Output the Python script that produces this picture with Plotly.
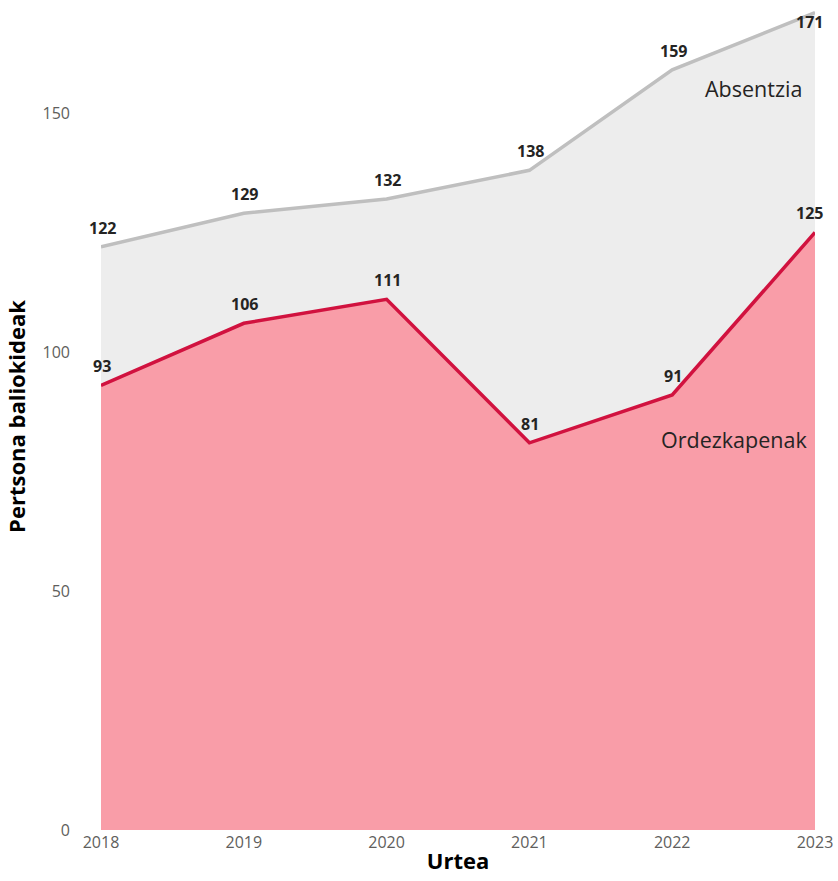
import plotly.graph_objects as go

years = [2018, 2019, 2020, 2021, 2022, 2023]
absentzia = [122, 129, 132, 138, 159, 171]
ordezkapenak = [93, 106, 111, 81, 91, 125]
y_ticks = [0, 50, 100, 150]
y_max = 173

label_font = dict(family="Open Sans, Noto Sans, sans-serif", size=16, color="#252423")

fig = go.Figure()
fig.add_trace(go.Scatter(
    x=years, y=absentzia, mode="lines", name="Absentzia",
    line=dict(color="#bfbfbf", width=3.5),
    fill="tozeroy", fillcolor="#ededed",
))
fig.add_trace(go.Scatter(
    x=years, y=ordezkapenak, mode="lines", name="Ordezkapenak",
    line=dict(color="#d1123f", width=3.5),
    fill="tozeroy", fillcolor="#f99da8",
))

last = years[-1]
for series in (absentzia, ordezkapenak):
    for yr, v in zip(years, series):
        near_top = v > y_max - 5
        fig.add_annotation(
            x=yr, y=v, xref="x", yref="y", text=f"<b>{v}</b>",
            showarrow=False,
            yshift=-9 if near_top else 19,
            xshift=-6 if yr == last else 1,
            font=label_font,
        )

fig.add_annotation(x=2022.57, y=155.2, xref="x", yref="y", text="Absentzia",
                   showarrow=False, font=dict(family="Open Sans, sans-serif", size=21.5, color="#252423"))
fig.add_annotation(x=2022.43, y=81.6, xref="x", yref="y", text="Ordezkapenak",
                   showarrow=False, font=dict(family="Open Sans, sans-serif", size=21.5, color="#252423"))

fig.update_layout(
    width=838, height=881,
    margin=dict(l=101, r=23, t=3, b=51, autoexpand=False),
    paper_bgcolor="white", plot_bgcolor="white",
    showlegend=False,
    font=dict(family="Open Sans, Noto Sans, sans-serif"),
)
fig.update_xaxes(
    range=[2018, 2023], tickvals=years, ticktext=[str(y) for y in years],
    showgrid=False, zeroline=False, showline=False, automargin=False,
    tickfont=dict(size=16, color="#605e5c"), ticks="", ticklabelstandoff=1,
    title=dict(text="<b>Urtea</b>", font=dict(size=22, color="#000000"), standoff=1),
)
fig.update_yaxes(
    range=[0, y_max], tickvals=y_ticks,
    showgrid=False, zeroline=False, showline=False, automargin=False,
    tickfont=dict(size=16, color="#605e5c"), ticks="", ticklabelstandoff=30,
    title=dict(text="<b>Pertsona baliokideak</b>", font=dict(size=22, color="#000000"), standoff=10),
)

fig.write_html("out.html", config={"displayModeBar": False},
               post_script="document.body.style.margin='0';")
